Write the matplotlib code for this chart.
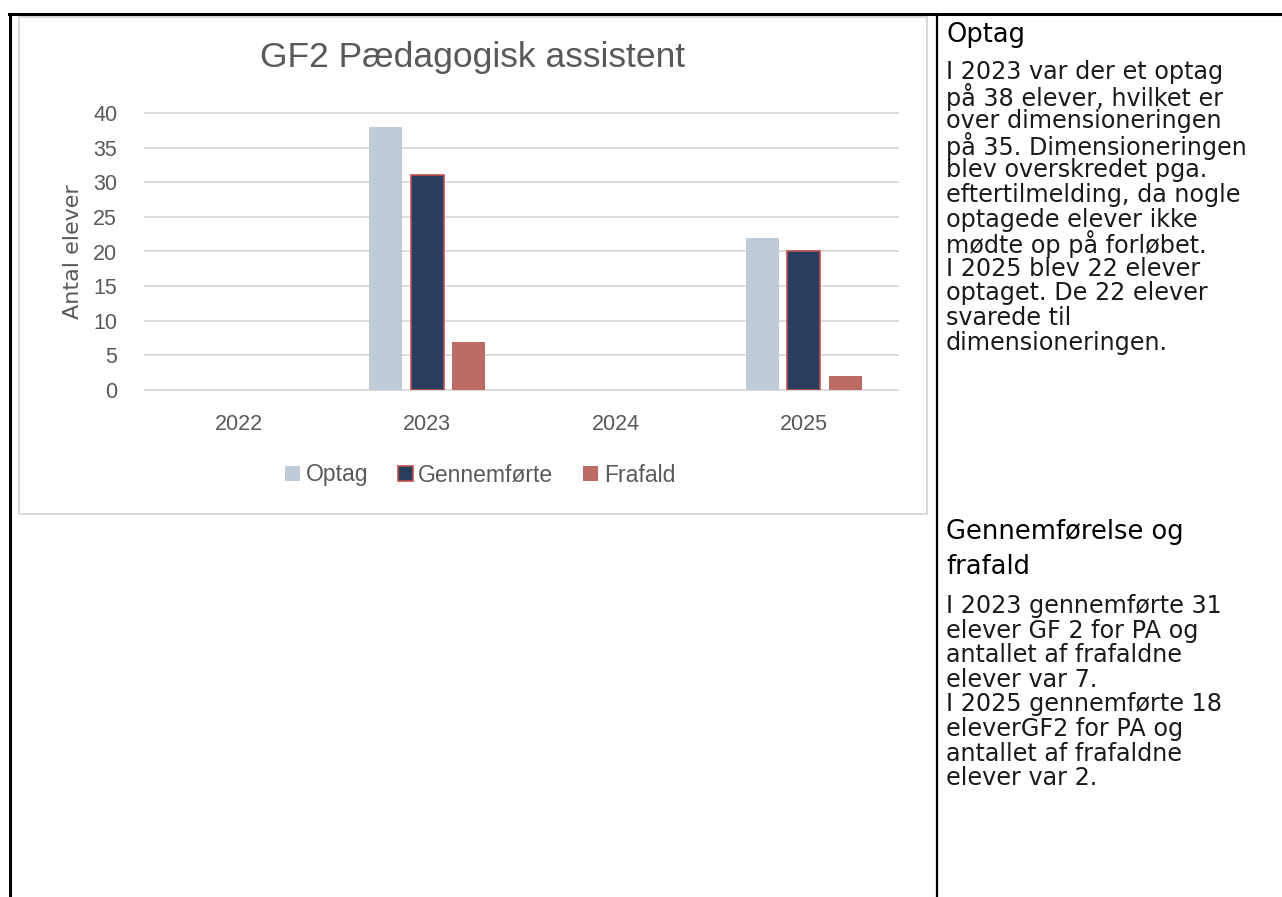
import numpy as np
import matplotlib
matplotlib.use("Agg")
import matplotlib.pyplot as plt
from matplotlib.patches import Rectangle
from matplotlib.lines import Line2D

# ---- data ----
years = ["2022", "2023", "2024", "2025"]
optag = [np.nan, 38, np.nan, 22]
gennemforte = [np.nan, 31, np.nan, 20]
frafald = [np.nan, 7, np.nan, 2]
series_names = ["Optag", "Gennemførte", "Frafald"]
y_ticks = [0, 5, 10, 15, 20, 25, 30, 35, 40]

title = "GF2 Pædagogisk assistent"
ylabel = "Antal elever"

heading1 = "Optag"
body1 = ["I 2023 var der et optag",
         "på 38 elever, hvilket er",
         "over dimensioneringen",
         "på 35. Dimensioneringen",
         "blev overskredet pga.",
         "eftertilmelding, da nogle",
         "optagede elever ikke",
         "mødte op på forløbet.",
         "I 2025 blev 22 elever",
         "optaget. De 22 elever",
         "svarede til",
         "dimensioneringen."]
heading2 = ["Gennemførelse og", "frafald"]
body2 = ["I 2023 gennemførte 31",
         "elever GF 2 for PA og",
         "antallet af frafaldne",
         "elever var 7.",
         "I 2025 gennemførte 18",
         "eleverGF2 for PA og",
         "antallet af frafaldne",
         "elever var 2."]

W, H = 1282, 897
fig = plt.figure(figsize=(W / 100, H / 100), dpi=100)
fig.patch.set_facecolor("white")

def fx(px):
    return px / W

def fy(py):
    return 1 - py / H

# table borders
fig.add_artist(Line2D([fx(9), fx(1282)], [fy(14), fy(14)], color="black", lw=2.2))
fig.add_artist(Line2D([fx(10), fx(10)], [fy(14), fy(897)], color="black", lw=2.2))
fig.add_artist(Line2D([fx(937), fx(937)], [fy(14), fy(897)], color="black", lw=1.6))
# chart frame
fig.add_artist(Rectangle((fx(19), fy(514)), fx(927 - 19), (514 - 17) / H,
                         fill=False, edgecolor="#d9d9d9", lw=1.4))

# axes
ax = fig.add_axes([fx(145), fy(390), fx(898 - 145), (390 - 113) / H])
ax.set_xlim(-0.5, 3.5)
ax.set_ylim(0, 40)
x = np.arange(len(years))
bw = 0.175
off = 0.22
ax.bar(x - off, optag, bw, color="#bfcbd6", label=series_names[0], zorder=3)
ax.bar(x, gennemforte, bw, color="#273e5f", edgecolor="#c0504d", linewidth=1.2,
       label=series_names[1], zorder=3)
ax.bar(x + off, frafald, bw, color="#bc6b65", label=series_names[2], zorder=3)

ax.set_yticks(y_ticks)
ax.set_xticks(x)
ax.set_xticklabels(years)
for s in ax.spines.values():
    s.set_visible(False)
ax.tick_params(length=0, labelsize=15.5, labelcolor="#595959")
ax.tick_params(axis="y", pad=20)
ax.tick_params(axis="x", pad=17)
for lbl in ax.get_xticklabels() + ax.get_yticklabels():
    lbl.set_family("Liberation Sans")
for t in y_ticks:
    ax.axhline(t, color="#d9d9d9", lw=1.3, zorder=1, clip_on=False)
ax.set_ylabel(ylabel, fontsize=16, color="#595959", family="DejaVu Sans")
ax.yaxis.set_label_coords(-0.083, 0.5)

fig.text(fx(473), fy(58), title, ha="center", va="center", fontsize=25.5,
         color="#595959", family="Liberation Sans")

leg = ax.legend(loc="center", bbox_to_anchor=((480 - 145) / 753, -(475 - 390) / 277),
                ncol=3, frameon=False, handlelength=0.65, handleheight=0.65,
                handletextpad=0.25, columnspacing=1.3,
                prop={"family": "Liberation Sans", "size": 16.5})
for t in leg.get_texts():
    t.set_color("#595959")

# right text column
tx = fx(946)
fam = "DejaVu Sans"
hsize = 18.5
bsize = 17.2
fig.text(tx, fy(35), heading1, ha="left", va="center", fontsize=hsize, color="black", family=fam)
for i, line in enumerate(body1):
    fig.text(tx, fy(72 + i * 24.6), line, ha="left", va="center", fontsize=bsize,
             color="#1a1a1a", family=fam)
fig.text(tx, fy(532), heading2[0], ha="left", va="center", fontsize=hsize, color="black", family=fam)
fig.text(tx, fy(567), heading2[1], ha="left", va="center", fontsize=hsize, color="black", family=fam)
for i, line in enumerate(body2):
    fig.text(tx, fy(606 + i * 24.6), line, ha="left", va="center", fontsize=bsize,
             color="#1a1a1a", family=fam)

fig.savefig("out.png", dpi=100, facecolor="white")
